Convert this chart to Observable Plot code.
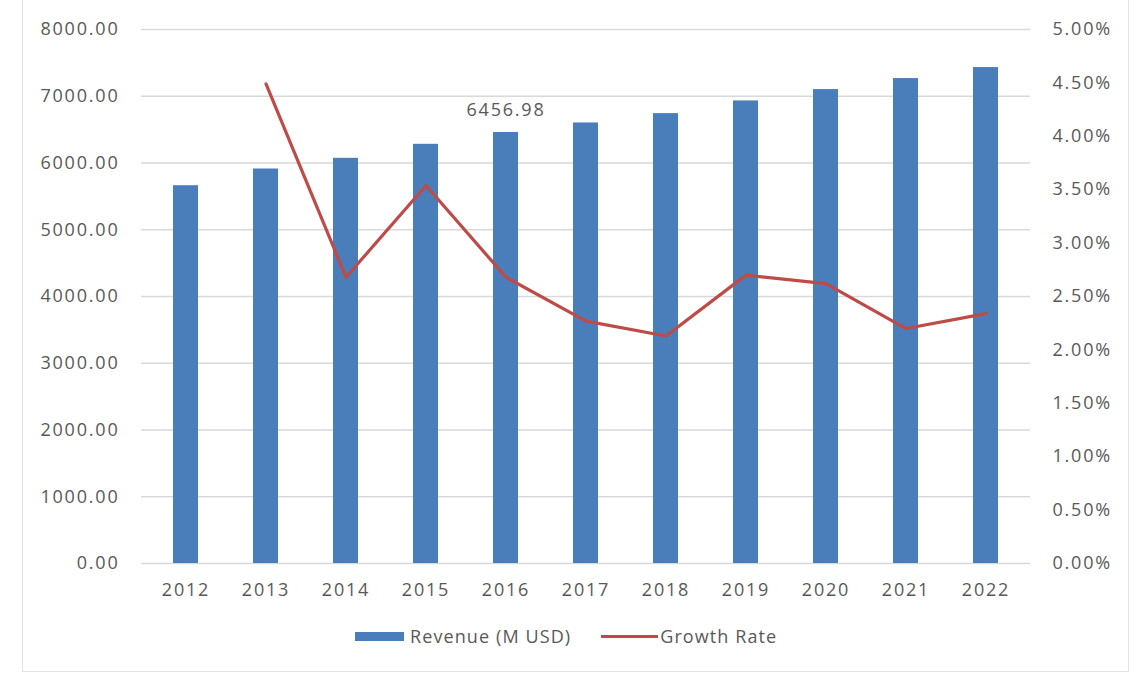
<!DOCTYPE html>
<html>
<head>
<meta charset="utf-8">
<script src="https://cdn.jsdelivr.net/npm/d3@7"></script>
<script src="https://cdn.jsdelivr.net/npm/@observablehq/plot@0.6"></script>
<style>
  html, body { margin: 0; padding: 0; background: #fff; }
  body { width: 1146px; height: 677px; position: relative; overflow: hidden; font-family: "Open Sans", sans-serif; }
  #frame { position: absolute; left: 22px; top: -2px; width: 1107px; height: 674px; border: 1.5px solid #e3e3e3; box-sizing: border-box; }
  #chart { position: absolute; left: 0; top: 0; }
  #chart text { letter-spacing: 1.8px; }
  #legend { position: absolute; top: 624px; left: 355px; display: flex; align-items: center; font-size: 18px; letter-spacing: 1.1px; color: #595959; }
  .sw-bar { display: inline-block; width: 49px; height: 9px; background: #4a7ebb; margin-right: 6px; }
  .sw-line { display: inline-block; width: 57px; height: 3px; background: #be4b48; margin-left: 30px; margin-right: 2px; }
</style>
</head>
<body>
<div id="frame"></div>
<div id="chart"></div>
<div id="legend"><span class="sw-bar"></span><span>Revenue (M USD)</span><span class="sw-line"></span><span>Growth Rate</span></div>
<script>
const years = ["2012","2013","2014","2015","2016","2017","2018","2019","2020","2021","2022"];
const revenue = [5660, 5910, 6070, 6280, 6456.98, 6600, 6740, 6930, 7100, 7265, 7430];
const growth = [null, 4.49, 2.68, 3.54, 2.68, 2.27, 2.13, 2.70, 2.62, 2.20, 2.34]; // percent
const leftTicks = [0,1000,2000,3000,4000,5000,6000,7000,8000];
const rightTicks = [0,0.5,1,1.5,2,2.5,3,3.5,4,4.5,5];
const labelYear = "2016";

const revMax = 8000, pctMax = 5;
const k = revMax / pctMax;
const data = years.map((y, i) => ({year: y, revenue: revenue[i], growth: growth[i]}));
const lineData = data.filter(d => d.growth != null);

const plot = Plot.plot({
  width: 1146,
  height: 616,
  marginLeft: 141,
  marginRight: 116,
  marginTop: 29,
  marginBottom: 53,
  style: {fontFamily: "Open Sans, sans-serif", fontSize: "18px", color: "#595959", background: "transparent"},
  x: {domain: years, paddingInner: 0.69, paddingOuter: 0.345, align: 0.5, label: null},
  y: {domain: [0, revMax], label: null},
  marks: [
    Plot.gridY(leftTicks, {stroke: "#d9d9d9", strokeOpacity: 1, strokeWidth: 1.5}),
    Plot.barY(data, {x: "year", y: "revenue", fill: "#4a7ebb"}),
    Plot.line(lineData, {x: "year", y: d => d.growth * k, stroke: "#be4b48", strokeWidth: 3.2, strokeLinejoin: "round"}),
    Plot.text(data.filter(d => d.year === labelYear), {x: "year", y: "revenue", text: d => d.revenue.toFixed(2), dy: -22, fill: "#595959", fontSize: 18}),
    Plot.axisY(leftTicks, {anchor: "left", tickSize: 0, tickPadding: 22, tickFormat: d => d.toFixed(2), fontSize: 18, label: null}),
    Plot.axisY(rightTicks.map(t => t * k), {anchor: "right", tickSize: 0, tickPadding: 22, tickFormat: d => (d / k).toFixed(2) + "%", fontSize: 18, label: null}),
    Plot.axisX({tickSize: 0, tickPadding: 20, fontSize: 18, label: null})
  ]
});
document.getElementById("chart").appendChild(plot);
</script>
</body>
</html>
